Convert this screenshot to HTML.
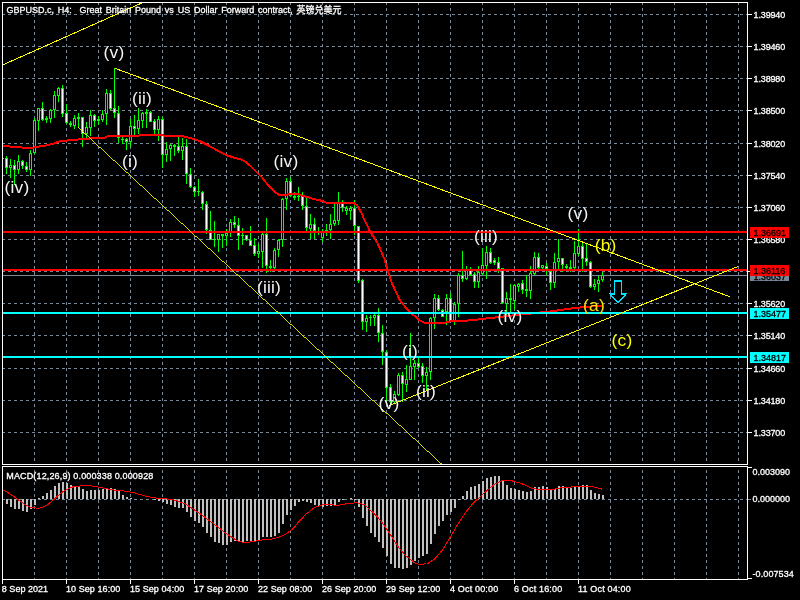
<!DOCTYPE html>
<html lang="en"><head><meta charset="utf-8"><title>GBPUSD.c, H4</title>
<style>html,body{margin:0;padding:0;background:#000;overflow:hidden}svg{display:block}text{font-family:"Liberation Sans","Noto Sans CJK SC",sans-serif;font-size:9px;color:#fff;fill:currentColor;stroke:currentColor;stroke-width:.3px}.w{font-size:17.33px;color:#f4f4f4;stroke-width:0;letter-spacing:.2px}.g{stroke:#778899;stroke-width:1;stroke-dasharray:3 3;fill:none}.c{stroke:#00ff00;stroke-width:1}.u{fill:#000;stroke:#00ff00;stroke-width:1}.d{fill:#fff;stroke:#00ff00;stroke-width:1}.y{stroke:#ffff00;stroke-width:1;fill:none}.b{fill:#000}</style></head><body>
<svg width="800" height="600" viewBox="0 0 800 600">
<rect width="800" height="600" fill="#000"/>
<g shape-rendering="crispEdges">
<g class="g">
<path d="M34.5 2.25V464" />
<path d="M34.5 466.25V579" stroke-dashoffset="2"/>
<path d="M66.5 2.25V464" />
<path d="M66.5 466.25V579" stroke-dashoffset="2"/>
<path d="M98.5 2.25V464" />
<path d="M98.5 466.25V579" stroke-dashoffset="2"/>
<path d="M130.5 2.25V464" />
<path d="M130.5 466.25V579" stroke-dashoffset="2"/>
<path d="M162.5 2.25V464" />
<path d="M162.5 466.25V579" stroke-dashoffset="2"/>
<path d="M194.5 2.25V464" />
<path d="M194.5 466.25V579" stroke-dashoffset="2"/>
<path d="M226.5 2.25V464" />
<path d="M226.5 466.25V579" stroke-dashoffset="2"/>
<path d="M258.5 2.25V464" />
<path d="M258.5 466.25V579" stroke-dashoffset="2"/>
<path d="M290.5 2.25V464" />
<path d="M290.5 466.25V579" stroke-dashoffset="2"/>
<path d="M322.5 2.25V464" />
<path d="M322.5 466.25V579" stroke-dashoffset="2"/>
<path d="M354.5 2.25V464" />
<path d="M354.5 466.25V579" stroke-dashoffset="2"/>
<path d="M386.5 2.25V464" />
<path d="M386.5 466.25V579" stroke-dashoffset="2"/>
<path d="M418.5 2.25V464" />
<path d="M418.5 466.25V579" stroke-dashoffset="2"/>
<path d="M450.5 2.25V464" />
<path d="M450.5 466.25V579" stroke-dashoffset="2"/>
<path d="M482.5 2.25V464" />
<path d="M482.5 466.25V579" stroke-dashoffset="2"/>
<path d="M514.5 2.25V464" />
<path d="M514.5 466.25V579" stroke-dashoffset="2"/>
<path d="M546.5 2.25V464" />
<path d="M546.5 466.25V579" stroke-dashoffset="2"/>
<path d="M578.5 2.25V464" />
<path d="M578.5 466.25V579" stroke-dashoffset="2"/>
<path d="M610.5 2.25V464" />
<path d="M610.5 466.25V579" stroke-dashoffset="2"/>
<path d="M642.5 2.25V464" />
<path d="M642.5 466.25V579" stroke-dashoffset="2"/>
<path d="M674.5 2.25V464" />
<path d="M674.5 466.25V579" stroke-dashoffset="2"/>
<path d="M706.5 2.25V464" />
<path d="M706.5 466.25V579" stroke-dashoffset="2"/>
<path d="M738.5 2.25V464" />
<path d="M738.5 466.25V579" stroke-dashoffset="2"/>
<path d="M1.5 14.5H747"/>
<path d="M1.5 46.5H747"/>
<path d="M1.5 78.5H747"/>
<path d="M1.5 110.5H747"/>
<path d="M1.5 143.5H747"/>
<path d="M1.5 175.5H747"/>
<path d="M1.5 207.5H747"/>
<path d="M1.5 239.5H747"/>
<path d="M1.5 271.5H747"/>
<path d="M1.5 303.5H747"/>
<path d="M1.5 335.5H747"/>
<path d="M1.5 368.5H747"/>
<path d="M1.5 400.5H747"/>
<path d="M1.5 432.5H747"/>
<path d="M1.5 499.5H747"/>
</g>
<rect x="2" y="275" width="745" height="1" fill="#778899"/>
<path class="c" d="M6.5 156V174"/>
<rect class="d" x="5.5" y="158.5" width="2" height="9"/>
<path class="c" d="M10.5 159V178"/>
<rect class="u" x="9.5" y="165.5" width="2" height="2"/>
<path class="c" d="M14.5 160V185"/>
<rect class="d" x="13.5" y="165.5" width="2" height="4"/>
<path class="c" d="M18.5 155V174"/>
<rect class="u" x="17.5" y="161.5" width="2" height="8"/>
<path class="c" d="M22.5 160V169"/>
<rect class="d" x="21.5" y="161.5" width="2" height="4"/>
<path class="c" d="M26.5 162V172"/>
<rect class="d" x="25.5" y="166.5" width="2" height="3"/>
<path class="c" d="M30.5 150V176"/>
<rect class="u" x="29.5" y="153.5" width="2" height="16"/>
<path class="c" d="M34.5 118V154"/>
<rect class="u" x="33.5" y="120.5" width="2" height="32"/>
<path class="c" d="M38.5 108V131"/>
<rect class="u" x="37.5" y="108.5" width="2" height="12"/>
<path class="c" d="M42.5 102V121"/>
<rect class="d" x="41.5" y="108.5" width="2" height="11"/>
<path class="c" d="M46.5 116V123"/>
<rect class="d" x="45.5" y="118.5" width="2" height="1"/>
<path class="c" d="M50.5 109V123"/>
<rect class="u" x="49.5" y="110.5" width="2" height="8"/>
<path class="c" d="M54.5 91V118"/>
<rect class="u" x="53.5" y="95.5" width="2" height="14"/>
<path class="c" d="M58.5 87V102"/>
<rect class="u" x="57.5" y="88.5" width="2" height="7"/>
<path class="c" d="M62.5 85V117"/>
<rect class="d" x="61.5" y="88.5" width="2" height="25"/>
<path class="c" d="M66.5 104V124"/>
<rect class="d" x="65.5" y="113.5" width="2" height="9"/>
<path class="c" d="M70.5 121V127"/>
<rect class="d" x="69.5" y="123.5" width="2" height="1"/>
<path class="c" d="M74.5 115V129"/>
<rect class="u" x="73.5" y="118.5" width="2" height="7"/>
<path class="c" d="M78.5 113V128"/>
<rect class="u" x="77.5" y="117.5" width="2" height="1"/>
<path class="c" d="M82.5 117V147"/>
<rect class="d" x="81.5" y="117.5" width="2" height="16"/>
<path class="c" d="M86.5 122V139"/>
<rect class="u" x="85.5" y="127.5" width="2" height="6"/>
<path class="c" d="M90.5 110V136"/>
<rect class="u" x="89.5" y="115.5" width="2" height="12"/>
<path class="c" d="M94.5 114V127"/>
<rect class="d" x="93.5" y="115.5" width="2" height="5"/>
<path class="c" d="M98.5 116V125"/>
<rect class="d" x="97.5" y="119.5" width="2" height="1"/>
<path class="c" d="M102.5 110V122"/>
<rect class="u" x="101.5" y="114.5" width="2" height="5"/>
<path class="c" d="M106.5 89V125"/>
<rect class="u" x="105.5" y="93.5" width="2" height="20"/>
<path class="c" d="M110.5 90V110"/>
<rect class="d" x="109.5" y="93.5" width="2" height="15"/>
<path class="c" d="M114.5 68V118"/>
<rect class="d" x="113.5" y="108.5" width="2" height="4"/>
<path class="c" d="M118.5 106V143"/>
<rect class="d" x="117.5" y="113.5" width="2" height="24"/>
<path class="c" d="M122.5 137V144"/>
<path class="c" d="M121.0 139.5H124.0"/>
<path class="c" d="M126.5 138V150"/>
<rect class="d" x="125.5" y="139.5" width="2" height="2"/>
<path class="c" d="M130.5 119V147"/>
<rect class="u" x="129.5" y="126.5" width="2" height="15"/>
<path class="c" d="M134.5 115V135"/>
<rect class="d" x="133.5" y="126.5" width="2" height="2"/>
<path class="c" d="M138.5 108V134"/>
<rect class="u" x="137.5" y="120.5" width="2" height="8"/>
<path class="c" d="M142.5 112V128"/>
<rect class="u" x="141.5" y="113.5" width="2" height="7"/>
<path class="c" d="M146.5 109V128"/>
<rect class="u" x="145.5" y="112.5" width="2" height="1"/>
<path class="c" d="M150.5 111V122"/>
<rect class="d" x="149.5" y="112.5" width="2" height="9"/>
<path class="c" d="M154.5 119V136"/>
<rect class="d" x="153.5" y="121.5" width="2" height="8"/>
<path class="c" d="M158.5 116V141"/>
<rect class="u" x="157.5" y="119.5" width="2" height="10"/>
<path class="c" d="M162.5 117V168"/>
<rect class="d" x="161.5" y="119.5" width="2" height="35"/>
<path class="c" d="M166.5 142V162"/>
<rect class="u" x="165.5" y="149.5" width="2" height="5"/>
<path class="c" d="M170.5 144V161"/>
<rect class="u" x="169.5" y="145.5" width="2" height="3"/>
<path class="c" d="M174.5 144V156"/>
<rect class="u" x="173.5" y="145.5" width="2" height="1"/>
<path class="c" d="M178.5 137V153"/>
<rect class="d" x="177.5" y="146.5" width="2" height="4"/>
<path class="c" d="M182.5 138V160"/>
<rect class="u" x="181.5" y="146.5" width="2" height="4"/>
<path class="c" d="M186.5 139V184"/>
<rect class="d" x="185.5" y="146.5" width="2" height="27"/>
<path class="c" d="M190.5 168V188"/>
<rect class="d" x="189.5" y="174.5" width="2" height="12"/>
<path class="c" d="M194.5 186V197"/>
<rect class="d" x="193.5" y="187.5" width="2" height="4"/>
<path class="c" d="M198.5 179V196"/>
<path class="c" d="M197.0 191.5H200.0"/>
<path class="c" d="M202.5 191V210"/>
<rect class="d" x="201.5" y="192.5" width="2" height="11"/>
<path class="c" d="M206.5 201V234"/>
<rect class="d" x="205.5" y="204.5" width="2" height="25"/>
<path class="c" d="M210.5 211V240"/>
<rect class="d" x="209.5" y="230.5" width="2" height="9"/>
<path class="c" d="M214.5 221V247"/>
<path class="c" d="M213.0 239.5H216.0"/>
<path class="c" d="M218.5 234V252"/>
<rect class="u" x="217.5" y="234.5" width="2" height="5"/>
<path class="c" d="M222.5 234V248"/>
<rect class="d" x="221.5" y="234.5" width="2" height="1"/>
<path class="c" d="M226.5 229V246"/>
<rect class="u" x="225.5" y="233.5" width="2" height="2"/>
<path class="c" d="M230.5 219V237"/>
<rect class="u" x="229.5" y="222.5" width="2" height="9"/>
<path class="c" d="M234.5 216V228"/>
<rect class="d" x="233.5" y="222.5" width="2" height="2"/>
<path class="c" d="M238.5 218V250"/>
<rect class="d" x="237.5" y="225.5" width="2" height="10"/>
<path class="c" d="M242.5 228V245"/>
<path class="c" d="M241.0 235.5H244.0"/>
<path class="c" d="M246.5 235V241"/>
<rect class="d" x="245.5" y="235.5" width="2" height="4"/>
<path class="c" d="M250.5 226V246"/>
<rect class="d" x="249.5" y="240.5" width="2" height="5"/>
<path class="c" d="M254.5 238V256"/>
<rect class="d" x="253.5" y="245.5" width="2" height="8"/>
<path class="c" d="M258.5 244V258"/>
<rect class="u" x="257.5" y="251.5" width="2" height="2"/>
<path class="c" d="M262.5 233V268"/>
<rect class="u" x="261.5" y="234.5" width="2" height="17"/>
<path class="c" d="M266.5 218V273"/>
<rect class="d" x="265.5" y="234.5" width="2" height="31"/>
<path class="c" d="M270.5 260V272"/>
<rect class="d" x="269.5" y="266.5" width="2" height="1"/>
<path class="c" d="M274.5 248V269"/>
<rect class="u" x="273.5" y="250.5" width="2" height="17"/>
<path class="c" d="M278.5 239V257"/>
<rect class="u" x="277.5" y="240.5" width="2" height="9"/>
<path class="c" d="M282.5 198V247"/>
<rect class="u" x="281.5" y="199.5" width="2" height="40"/>
<path class="c" d="M286.5 178V210"/>
<rect class="u" x="285.5" y="181.5" width="2" height="17"/>
<path class="c" d="M290.5 177V197"/>
<rect class="d" x="289.5" y="181.5" width="2" height="14"/>
<path class="c" d="M294.5 192V200"/>
<rect class="d" x="293.5" y="196.5" width="2" height="1"/>
<path class="c" d="M298.5 187V201"/>
<path class="c" d="M297.0 196.5H300.0"/>
<path class="c" d="M302.5 192V210"/>
<rect class="d" x="301.5" y="196.5" width="2" height="9"/>
<path class="c" d="M306.5 198V231"/>
<rect class="d" x="305.5" y="206.5" width="2" height="21"/>
<path class="c" d="M310.5 214V239"/>
<rect class="u" x="309.5" y="224.5" width="2" height="4"/>
<path class="c" d="M314.5 218V239"/>
<rect class="d" x="313.5" y="224.5" width="2" height="6"/>
<path class="c" d="M318.5 227V235"/>
<path class="c" d="M317.0 231.5H320.0"/>
<path class="c" d="M322.5 229V242"/>
<rect class="u" x="321.5" y="232.5" width="2" height="5"/>
<path class="c" d="M326.5 224V236"/>
<path class="c" d="M325.0 230.5H328.0"/>
<path class="c" d="M330.5 214V239"/>
<rect class="u" x="329.5" y="224.5" width="2" height="5"/>
<path class="c" d="M334.5 204V226"/>
<rect class="u" x="333.5" y="220.5" width="2" height="3"/>
<path class="c" d="M338.5 192V225"/>
<rect class="u" x="337.5" y="203.5" width="2" height="17"/>
<path class="c" d="M342.5 200V212"/>
<rect class="d" x="341.5" y="203.5" width="2" height="4"/>
<path class="c" d="M346.5 206V215"/>
<rect class="u" x="345.5" y="208.5" width="2" height="2"/>
<path class="c" d="M350.5 206V220"/>
<rect class="u" x="349.5" y="208.5" width="2" height="2"/>
<path class="c" d="M354.5 200V235"/>
<rect class="d" x="353.5" y="208.5" width="2" height="17"/>
<path class="c" d="M358.5 226V283"/>
<rect class="d" x="357.5" y="226.5" width="2" height="54"/>
<path class="c" d="M362.5 279V330"/>
<rect class="d" x="361.5" y="280.5" width="2" height="41"/>
<path class="c" d="M366.5 315V332"/>
<rect class="u" x="365.5" y="318.5" width="2" height="3"/>
<path class="c" d="M370.5 315V326"/>
<path class="c" d="M369.0 317.5H372.0"/>
<path class="c" d="M374.5 313V326"/>
<rect class="u" x="373.5" y="315.5" width="2" height="2"/>
<path class="c" d="M378.5 308V342"/>
<rect class="d" x="377.5" y="315.5" width="2" height="17"/>
<path class="c" d="M382.5 325V365"/>
<rect class="d" x="381.5" y="333.5" width="2" height="18"/>
<path class="c" d="M386.5 350V404"/>
<rect class="d" x="385.5" y="352.5" width="2" height="35"/>
<path class="c" d="M390.5 384V406"/>
<rect class="d" x="389.5" y="387.5" width="2" height="14"/>
<path class="c" d="M394.5 391V403"/>
<rect class="u" x="393.5" y="394.5" width="2" height="7"/>
<path class="c" d="M398.5 373V396"/>
<rect class="u" x="397.5" y="375.5" width="2" height="19"/>
<path class="c" d="M402.5 372V402"/>
<rect class="d" x="401.5" y="375.5" width="2" height="8"/>
<path class="c" d="M406.5 365V392"/>
<rect class="u" x="405.5" y="379.5" width="2" height="5"/>
<path class="c" d="M410.5 333V380"/>
<rect class="u" x="409.5" y="366.5" width="2" height="13"/>
<path class="c" d="M414.5 360V380"/>
<rect class="u" x="413.5" y="363.5" width="2" height="3"/>
<path class="c" d="M418.5 358V368"/>
<rect class="d" x="417.5" y="363.5" width="2" height="3"/>
<path class="c" d="M422.5 363V383"/>
<rect class="d" x="421.5" y="366.5" width="2" height="9"/>
<path class="c" d="M426.5 367V390"/>
<rect class="u" x="425.5" y="372.5" width="2" height="3"/>
<path class="c" d="M430.5 317V380"/>
<rect class="u" x="429.5" y="318.5" width="2" height="53"/>
<path class="c" d="M434.5 294V329"/>
<rect class="u" x="433.5" y="298.5" width="2" height="19"/>
<path class="c" d="M438.5 295V311"/>
<rect class="d" x="437.5" y="298.5" width="2" height="11"/>
<path class="c" d="M442.5 309V317"/>
<rect class="d" x="441.5" y="310.5" width="2" height="6"/>
<path class="c" d="M446.5 294V325"/>
<rect class="u" x="445.5" y="298.5" width="2" height="13"/>
<path class="c" d="M450.5 293V322"/>
<rect class="d" x="449.5" y="298.5" width="2" height="22"/>
<path class="c" d="M454.5 302V325"/>
<rect class="u" x="453.5" y="304.5" width="2" height="16"/>
<path class="c" d="M458.5 273V317"/>
<rect class="u" x="457.5" y="275.5" width="2" height="28"/>
<path class="c" d="M462.5 251V282"/>
<rect class="d" x="461.5" y="275.5" width="2" height="3"/>
<path class="c" d="M466.5 266V280"/>
<rect class="u" x="465.5" y="270.5" width="2" height="8"/>
<path class="c" d="M470.5 267V276"/>
<rect class="d" x="469.5" y="270.5" width="2" height="4"/>
<path class="c" d="M474.5 272V288"/>
<rect class="d" x="473.5" y="274.5" width="2" height="7"/>
<path class="c" d="M478.5 266V288"/>
<rect class="u" x="477.5" y="272.5" width="2" height="9"/>
<path class="c" d="M482.5 248V275"/>
<rect class="u" x="481.5" y="265.5" width="2" height="8"/>
<path class="c" d="M486.5 246V279"/>
<rect class="u" x="485.5" y="252.5" width="2" height="13"/>
<path class="c" d="M490.5 248V264"/>
<rect class="d" x="489.5" y="252.5" width="2" height="10"/>
<path class="c" d="M494.5 258V265"/>
<rect class="d" x="493.5" y="260.5" width="2" height="2"/>
<path class="c" d="M498.5 257V273"/>
<rect class="d" x="497.5" y="262.5" width="2" height="6"/>
<path class="c" d="M502.5 268V304"/>
<rect class="d" x="501.5" y="268.5" width="2" height="34"/>
<path class="c" d="M506.5 292V315"/>
<rect class="u" x="505.5" y="298.5" width="2" height="5"/>
<path class="c" d="M510.5 284V314"/>
<rect class="d" x="509.5" y="298.5" width="2" height="1"/>
<path class="c" d="M514.5 284V310"/>
<rect class="u" x="513.5" y="285.5" width="2" height="15"/>
<path class="c" d="M518.5 283V292"/>
<rect class="u" x="517.5" y="284.5" width="2" height="2"/>
<path class="c" d="M522.5 280V294"/>
<rect class="d" x="521.5" y="283.5" width="2" height="6"/>
<path class="c" d="M526.5 275V297"/>
<rect class="d" x="525.5" y="289.5" width="2" height="1"/>
<path class="c" d="M530.5 266V299"/>
<rect class="u" x="529.5" y="273.5" width="2" height="17"/>
<path class="c" d="M534.5 252V275"/>
<rect class="u" x="533.5" y="257.5" width="2" height="16"/>
<path class="c" d="M538.5 253V269"/>
<rect class="d" x="537.5" y="257.5" width="2" height="10"/>
<path class="c" d="M542.5 265V269"/>
<rect class="u" x="541.5" y="265.5" width="2" height="2"/>
<path class="c" d="M546.5 263V275"/>
<rect class="d" x="545.5" y="266.5" width="2" height="2"/>
<path class="c" d="M550.5 269V290"/>
<rect class="d" x="549.5" y="271.5" width="2" height="11"/>
<path class="c" d="M554.5 253V288"/>
<rect class="u" x="553.5" y="262.5" width="2" height="20"/>
<path class="c" d="M558.5 239V269"/>
<rect class="u" x="557.5" y="258.5" width="2" height="3"/>
<path class="c" d="M562.5 258V272"/>
<rect class="d" x="561.5" y="258.5" width="2" height="6"/>
<path class="c" d="M566.5 264V269"/>
<rect class="d" x="565.5" y="266.5" width="2" height="1"/>
<path class="c" d="M570.5 260V272"/>
<rect class="d" x="569.5" y="267.5" width="2" height="1"/>
<path class="c" d="M574.5 241V269"/>
<rect class="u" x="573.5" y="253.5" width="2" height="14"/>
<path class="c" d="M578.5 229V256"/>
<rect class="u" x="577.5" y="246.5" width="2" height="7"/>
<path class="c" d="M582.5 241V272"/>
<rect class="d" x="581.5" y="246.5" width="2" height="12"/>
<path class="c" d="M586.5 243V266"/>
<rect class="d" x="585.5" y="258.5" width="2" height="3"/>
<path class="c" d="M590.5 261V288"/>
<rect class="d" x="589.5" y="262.5" width="2" height="24"/>
<path class="c" d="M594.5 279V290"/>
<rect class="u" x="593.5" y="284.5" width="2" height="2"/>
<path class="c" d="M598.5 276V292"/>
<rect class="u" x="597.5" y="280.5" width="2" height="3"/>
<path class="c" d="M602.5 272V282"/>
<rect class="u" x="601.5" y="275.5" width="2" height="4"/>
<rect x="3" y="158" width="1" height="1" fill="#00ff00"/>
<polyline points="2,146 10,146.5 16,147 22,147.5 28,148 34,147.5 39,146.5 45,145.7 54,143.5 60,141.2 72,140 90,138.5 98,138 104,138 108,136 137,136 141,135 162,135 166,136 182,136 190,138 199,140.7 205,143.7 212,147.5 220,152 226,155 235,158 241,159.5 246,162 250,165.5 254,169.5 258,173.5 262,177.5 266,182.5 271,188 275,192 278.5,194.7 287,194.7 289,193.7 296,193.7 305,196.4 313,198.7 321,200.6 327,202.9 354.5,203.5 357,205 362,214 364,219 368,227 370,231.5 375,239 377.5,243 384.5,259 387.7,271 392.5,284.5 400,300.5 404,305.5 408,310 412,314 416,317 420,320.5 424,322.5 446,322.5 450,321.5 460,321 471,320.3 519,314.7 550,311.5 575,308 602.5,305.5" fill="none" stroke="#ff0000" stroke-width="2" stroke-linejoin="round"/>
<rect x="2" y="231" width="745" height="2" fill="#ff0000"/>
<rect x="2" y="269" width="745" height="2" fill="#ff0000"/>
<rect x="2" y="312" width="745" height="2" fill="#00ffff"/>
<rect x="2" y="356" width="745" height="2" fill="#00ffff"/>
<g class="y">
<path d="M2.5 65L143 2.5"/>
<path d="M115 68.3L730 296.8"/>
<path d="M78 127.1L441.5 464" stroke-width=".85"/>
<path d="M389.5 405.5L738 266.5"/>
</g>
<path d="M614.5 281H621.5V294H626L618 302.5L610 294H614.5Z" fill="none" stroke="#00e0ff" stroke-width="1.4"/>
<rect x="5.5" y="499" width="2" height="5" fill="#c0c0c0"/>
<rect x="9.5" y="499" width="2" height="8" fill="#c0c0c0"/>
<rect x="13.5" y="499" width="2" height="10" fill="#c0c0c0"/>
<rect x="17.5" y="499" width="2" height="10" fill="#c0c0c0"/>
<rect x="21.5" y="499" width="2" height="12" fill="#c0c0c0"/>
<rect x="25.5" y="499" width="2" height="13" fill="#c0c0c0"/>
<rect x="29.5" y="499" width="2" height="10" fill="#c0c0c0"/>
<rect x="33.5" y="499" width="2" height="6" fill="#c0c0c0"/>
<rect x="37.5" y="498" width="2" height="1" fill="#c0c0c0"/>
<rect x="41.5" y="496" width="2" height="3" fill="#c0c0c0"/>
<rect x="45.5" y="493" width="2" height="6" fill="#c0c0c0"/>
<rect x="49.5" y="490" width="2" height="9" fill="#c0c0c0"/>
<rect x="53.5" y="486" width="2" height="13" fill="#c0c0c0"/>
<rect x="57.5" y="483" width="2" height="16" fill="#c0c0c0"/>
<rect x="61.5" y="482" width="2" height="17" fill="#c0c0c0"/>
<rect x="65.5" y="483" width="2" height="16" fill="#c0c0c0"/>
<rect x="69.5" y="485" width="2" height="14" fill="#c0c0c0"/>
<rect x="73.5" y="486" width="2" height="13" fill="#c0c0c0"/>
<rect x="77.5" y="487" width="2" height="12" fill="#c0c0c0"/>
<rect x="81.5" y="489" width="2" height="10" fill="#c0c0c0"/>
<rect x="85.5" y="491" width="2" height="8" fill="#c0c0c0"/>
<rect x="89.5" y="490" width="2" height="9" fill="#c0c0c0"/>
<rect x="93.5" y="490" width="2" height="9" fill="#c0c0c0"/>
<rect x="97.5" y="490" width="2" height="9" fill="#c0c0c0"/>
<rect x="101.5" y="489" width="2" height="10" fill="#c0c0c0"/>
<rect x="105.5" y="488" width="2" height="11" fill="#c0c0c0"/>
<rect x="109.5" y="488" width="2" height="11" fill="#c0c0c0"/>
<rect x="113.5" y="489" width="2" height="10" fill="#c0c0c0"/>
<rect x="117.5" y="491" width="2" height="8" fill="#c0c0c0"/>
<rect x="121.5" y="495" width="2" height="4" fill="#c0c0c0"/>
<rect x="125.5" y="497" width="2" height="2" fill="#c0c0c0"/>
<rect x="129.5" y="498" width="2" height="1" fill="#c0c0c0"/>
<rect x="153.5" y="499" width="2" height="1" fill="#c0c0c0"/>
<rect x="157.5" y="499" width="2" height="2" fill="#c0c0c0"/>
<rect x="161.5" y="499" width="2" height="3" fill="#c0c0c0"/>
<rect x="165.5" y="499" width="2" height="5" fill="#c0c0c0"/>
<rect x="169.5" y="499" width="2" height="6" fill="#c0c0c0"/>
<rect x="173.5" y="499" width="2" height="8" fill="#c0c0c0"/>
<rect x="177.5" y="499" width="2" height="9" fill="#c0c0c0"/>
<rect x="181.5" y="499" width="2" height="9" fill="#c0c0c0"/>
<rect x="185.5" y="499" width="2" height="13" fill="#c0c0c0"/>
<rect x="189.5" y="499" width="2" height="18" fill="#c0c0c0"/>
<rect x="193.5" y="499" width="2" height="22" fill="#c0c0c0"/>
<rect x="197.5" y="499" width="2" height="24" fill="#c0c0c0"/>
<rect x="201.5" y="499" width="2" height="28" fill="#c0c0c0"/>
<rect x="205.5" y="499" width="2" height="34" fill="#c0c0c0"/>
<rect x="209.5" y="499" width="2" height="38" fill="#c0c0c0"/>
<rect x="213.5" y="499" width="2" height="43" fill="#c0c0c0"/>
<rect x="217.5" y="499" width="2" height="44" fill="#c0c0c0"/>
<rect x="221.5" y="499" width="2" height="46" fill="#c0c0c0"/>
<rect x="225.5" y="499" width="2" height="46" fill="#c0c0c0"/>
<rect x="229.5" y="499" width="2" height="43" fill="#c0c0c0"/>
<rect x="233.5" y="499" width="2" height="42" fill="#c0c0c0"/>
<rect x="237.5" y="499" width="2" height="43" fill="#c0c0c0"/>
<rect x="241.5" y="499" width="2" height="43" fill="#c0c0c0"/>
<rect x="245.5" y="499" width="2" height="42" fill="#c0c0c0"/>
<rect x="249.5" y="499" width="2" height="42" fill="#c0c0c0"/>
<rect x="253.5" y="499" width="2" height="42" fill="#c0c0c0"/>
<rect x="257.5" y="499" width="2" height="42" fill="#c0c0c0"/>
<rect x="261.5" y="499" width="2" height="38" fill="#c0c0c0"/>
<rect x="265.5" y="499" width="2" height="38" fill="#c0c0c0"/>
<rect x="269.5" y="499" width="2" height="38" fill="#c0c0c0"/>
<rect x="273.5" y="499" width="2" height="37" fill="#c0c0c0"/>
<rect x="277.5" y="499" width="2" height="34" fill="#c0c0c0"/>
<rect x="281.5" y="499" width="2" height="25" fill="#c0c0c0"/>
<rect x="285.5" y="499" width="2" height="16" fill="#c0c0c0"/>
<rect x="289.5" y="499" width="2" height="11" fill="#c0c0c0"/>
<rect x="293.5" y="499" width="2" height="7" fill="#c0c0c0"/>
<rect x="297.5" y="499" width="2" height="3" fill="#c0c0c0"/>
<rect x="301.5" y="499" width="2" height="2" fill="#c0c0c0"/>
<rect x="305.5" y="499" width="2" height="3" fill="#c0c0c0"/>
<rect x="309.5" y="499" width="2" height="4" fill="#c0c0c0"/>
<rect x="313.5" y="499" width="2" height="6" fill="#c0c0c0"/>
<rect x="317.5" y="499" width="2" height="7" fill="#c0c0c0"/>
<rect x="321.5" y="499" width="2" height="8" fill="#c0c0c0"/>
<rect x="325.5" y="499" width="2" height="7" fill="#c0c0c0"/>
<rect x="329.5" y="499" width="2" height="7" fill="#c0c0c0"/>
<rect x="333.5" y="499" width="2" height="6" fill="#c0c0c0"/>
<rect x="337.5" y="499" width="2" height="3" fill="#c0c0c0"/>
<rect x="341.5" y="499" width="2" height="1" fill="#c0c0c0"/>
<rect x="349.5" y="498" width="2" height="1" fill="#c0c0c0"/>
<rect x="353.5" y="499" width="2" height="1" fill="#c0c0c0"/>
<rect x="357.5" y="499" width="2" height="8" fill="#c0c0c0"/>
<rect x="361.5" y="499" width="2" height="19" fill="#c0c0c0"/>
<rect x="365.5" y="499" width="2" height="27" fill="#c0c0c0"/>
<rect x="369.5" y="499" width="2" height="34" fill="#c0c0c0"/>
<rect x="373.5" y="499" width="2" height="38" fill="#c0c0c0"/>
<rect x="377.5" y="499" width="2" height="43" fill="#c0c0c0"/>
<rect x="381.5" y="499" width="2" height="49" fill="#c0c0c0"/>
<rect x="385.5" y="499" width="2" height="57" fill="#c0c0c0"/>
<rect x="389.5" y="499" width="2" height="65" fill="#c0c0c0"/>
<rect x="393.5" y="499" width="2" height="69" fill="#c0c0c0"/>
<rect x="397.5" y="499" width="2" height="69" fill="#c0c0c0"/>
<rect x="401.5" y="499" width="2" height="70" fill="#c0c0c0"/>
<rect x="405.5" y="499" width="2" height="69" fill="#c0c0c0"/>
<rect x="409.5" y="499" width="2" height="66" fill="#c0c0c0"/>
<rect x="413.5" y="499" width="2" height="62" fill="#c0c0c0"/>
<rect x="417.5" y="499" width="2" height="59" fill="#c0c0c0"/>
<rect x="421.5" y="499" width="2" height="57" fill="#c0c0c0"/>
<rect x="425.5" y="499" width="2" height="55" fill="#c0c0c0"/>
<rect x="429.5" y="499" width="2" height="45" fill="#c0c0c0"/>
<rect x="433.5" y="499" width="2" height="35" fill="#c0c0c0"/>
<rect x="437.5" y="499" width="2" height="27" fill="#c0c0c0"/>
<rect x="441.5" y="499" width="2" height="22" fill="#c0c0c0"/>
<rect x="445.5" y="499" width="2" height="16" fill="#c0c0c0"/>
<rect x="449.5" y="499" width="2" height="13" fill="#c0c0c0"/>
<rect x="453.5" y="499" width="2" height="9" fill="#c0c0c0"/>
<rect x="457.5" y="499" width="2" height="1" fill="#c0c0c0"/>
<rect x="461.5" y="496" width="2" height="3" fill="#c0c0c0"/>
<rect x="465.5" y="491" width="2" height="8" fill="#c0c0c0"/>
<rect x="469.5" y="487" width="2" height="12" fill="#c0c0c0"/>
<rect x="473.5" y="486" width="2" height="13" fill="#c0c0c0"/>
<rect x="477.5" y="484" width="2" height="15" fill="#c0c0c0"/>
<rect x="481.5" y="481" width="2" height="18" fill="#c0c0c0"/>
<rect x="485.5" y="478" width="2" height="21" fill="#c0c0c0"/>
<rect x="489.5" y="477" width="2" height="22" fill="#c0c0c0"/>
<rect x="493.5" y="476" width="2" height="23" fill="#c0c0c0"/>
<rect x="497.5" y="476" width="2" height="23" fill="#c0c0c0"/>
<rect x="501.5" y="481" width="2" height="18" fill="#c0c0c0"/>
<rect x="505.5" y="485" width="2" height="14" fill="#c0c0c0"/>
<rect x="509.5" y="488" width="2" height="11" fill="#c0c0c0"/>
<rect x="513.5" y="489" width="2" height="10" fill="#c0c0c0"/>
<rect x="517.5" y="490" width="2" height="9" fill="#c0c0c0"/>
<rect x="521.5" y="491" width="2" height="8" fill="#c0c0c0"/>
<rect x="525.5" y="492" width="2" height="7" fill="#c0c0c0"/>
<rect x="529.5" y="491" width="2" height="8" fill="#c0c0c0"/>
<rect x="533.5" y="487" width="2" height="12" fill="#c0c0c0"/>
<rect x="537.5" y="487" width="2" height="12" fill="#c0c0c0"/>
<rect x="541.5" y="486" width="2" height="13" fill="#c0c0c0"/>
<rect x="545.5" y="487" width="2" height="12" fill="#c0c0c0"/>
<rect x="549.5" y="490" width="2" height="9" fill="#c0c0c0"/>
<rect x="553.5" y="489" width="2" height="10" fill="#c0c0c0"/>
<rect x="557.5" y="486" width="2" height="13" fill="#c0c0c0"/>
<rect x="561.5" y="486" width="2" height="13" fill="#c0c0c0"/>
<rect x="565.5" y="488" width="2" height="11" fill="#c0c0c0"/>
<rect x="569.5" y="488" width="2" height="11" fill="#c0c0c0"/>
<rect x="573.5" y="487" width="2" height="12" fill="#c0c0c0"/>
<rect x="577.5" y="486" width="2" height="13" fill="#c0c0c0"/>
<rect x="581.5" y="485" width="2" height="14" fill="#c0c0c0"/>
<rect x="585.5" y="485" width="2" height="14" fill="#c0c0c0"/>
<rect x="589.5" y="490" width="2" height="9" fill="#c0c0c0"/>
<rect x="593.5" y="493" width="2" height="6" fill="#c0c0c0"/>
<rect x="597.5" y="494" width="2" height="5" fill="#c0c0c0"/>
<rect x="601.5" y="495" width="2" height="4" fill="#c0c0c0"/>
<path d="M3 490C5.3 491.3 4.3 490.3 10 494C15.7 497.7 14.0 497.0 20 501C26.0 505.0 22.7 503.7 28 506C33.3 508.3 30.7 507.8 36 508C41.3 508.2 38.7 508.8 44 506.5C49.3 504.2 46.7 505.2 52 501C57.3 496.8 54.0 498.3 60 494C66.0 489.7 63.3 490.7 70 488C76.7 485.3 72.7 486.7 80 486C87.3 485.3 82.0 484.9 92 486C102.0 487.1 97.3 487.4 110 489.4C122.7 491.4 116.7 489.5 130 492C143.3 494.5 136.7 494.5 150 497C163.3 499.5 160.0 497.7 170 499.4C180.0 501.1 173.3 499.5 180 502C186.7 504.5 180.0 500.7 190 507C200.0 513.3 196.7 511.3 210 521C223.3 530.7 219.3 529.0 230 536C240.7 543.0 235.3 540.0 242 542C248.7 544.0 243.3 542.7 250 542C256.7 541.3 253.3 541.3 262 540C270.7 538.7 266.7 541.0 276 538C285.3 535.0 282.0 536.8 290 531C298.0 525.2 293.3 527.2 300 520.5C306.7 513.8 303.3 516.0 310 511C316.7 506.0 313.3 507.6 320 505.6C326.7 503.6 323.3 505.2 330 505C336.7 504.8 333.3 505.5 340 505C346.7 504.5 342.7 503.7 350 503.4C357.3 503.1 355.3 501.8 362 504C368.7 506.2 364.0 504.7 370 510C376.0 515.3 373.3 512.0 380 520C386.7 528.0 383.3 524.3 390 534C396.7 543.7 393.3 540.7 400 549C406.7 557.3 404.0 554.0 410 559C416.0 564.0 413.3 562.3 418 564C422.7 565.7 420.0 564.7 424 564C428.0 563.3 424.7 565.7 430 562C435.3 558.3 433.3 561.2 440 553C446.7 544.8 443.3 548.2 450 537.5C456.7 526.8 453.3 531.2 460 521C466.7 510.8 463.3 515.0 470 507C476.7 499.0 473.3 503.3 480 497C486.7 490.7 484.0 492.8 490 488C496.0 483.2 492.7 485.1 498 482.6C503.3 480.1 500.0 480.6 506 480.4C512.0 480.2 509.3 480.3 516 482C522.7 483.7 520.0 483.2 526 485.4C532.0 487.6 526.0 487.3 534 488.6C542.0 489.9 539.3 489.8 550 489.4C560.7 489.0 554.0 488.3 566 487.4C578.0 486.5 575.3 486.4 586 486.6C596.7 486.8 592.7 487.1 598 488C603.3 488.9 600.7 488.9 602 489.4" fill="none" stroke="#ff0000" stroke-width="1"/>
<path d="M2.5 464.5V2.5H747.5V464.5H2.5" fill="none" stroke="#fff"/>
<path d="M2.5 579.5V466.5H747.5V579.5H2.5" fill="none" stroke="#fff"/>
<rect x="748" y="14" width="4" height="1" fill="#fff"/>
<rect x="748" y="46" width="4" height="1" fill="#fff"/>
<rect x="748" y="78" width="4" height="1" fill="#fff"/>
<rect x="748" y="110" width="4" height="1" fill="#fff"/>
<rect x="748" y="143" width="4" height="1" fill="#fff"/>
<rect x="748" y="175" width="4" height="1" fill="#fff"/>
<rect x="748" y="207" width="4" height="1" fill="#fff"/>
<rect x="748" y="239" width="4" height="1" fill="#fff"/>
<rect x="748" y="271" width="4" height="1" fill="#fff"/>
<rect x="748" y="303" width="4" height="1" fill="#fff"/>
<rect x="748" y="335" width="4" height="1" fill="#fff"/>
<rect x="748" y="368" width="4" height="1" fill="#fff"/>
<rect x="748" y="400" width="4" height="1" fill="#fff"/>
<rect x="748" y="432" width="4" height="1" fill="#fff"/>
<rect x="748" y="467" width="4" height="1" fill="#fff"/>
<rect x="748" y="578" width="4" height="1" fill="#fff"/>
<rect x="748" y="499" width="3" height="1" fill="#778899"/>
<rect x="2" y="580" width="1" height="4" fill="#fff"/>
<rect x="66" y="580" width="1" height="4" fill="#fff"/>
<rect x="130" y="580" width="1" height="4" fill="#fff"/>
<rect x="194" y="580" width="1" height="4" fill="#fff"/>
<rect x="258" y="580" width="1" height="4" fill="#fff"/>
<rect x="322" y="580" width="1" height="4" fill="#fff"/>
<rect x="386" y="580" width="1" height="4" fill="#fff"/>
<rect x="450" y="580" width="1" height="4" fill="#fff"/>
<rect x="514" y="580" width="1" height="4" fill="#fff"/>
<rect x="578" y="580" width="1" height="4" fill="#fff"/>
<rect x="750" y="275" width="39" height="6" fill="#778899"/>
<rect x="750" y="227" width="39" height="11" fill="#ff0000"/>
<rect x="750" y="265" width="39" height="11" fill="#ff0000"/>
<rect x="750" y="308" width="39" height="11" fill="#00ffff"/>
<rect x="750" y="352" width="39" height="11" fill="#00ffff"/>
</g>
<text x="753.6" y="18" textLength="31.6">1.39940</text>
<text x="753.6" y="50" textLength="31.6">1.39460</text>
<text x="753.6" y="82" textLength="31.6">1.38980</text>
<text x="753.6" y="114" textLength="31.6">1.38500</text>
<text x="753.6" y="147" textLength="31.6">1.38020</text>
<text x="753.6" y="179" textLength="31.6">1.37540</text>
<text x="753.6" y="211" textLength="31.6">1.37060</text>
<text x="753.6" y="243" textLength="31.6">1.36580</text>
<text x="753.6" y="307" textLength="31.6">1.35620</text>
<text x="753.6" y="339" textLength="31.6">1.35140</text>
<text x="753.6" y="372" textLength="31.6">1.34660</text>
<text x="753.6" y="404" textLength="31.6">1.34180</text>
<text x="753.6" y="436" textLength="31.6">1.33700</text>
<rect x="750" y="275" width="39" height="6" fill="#778899"/>
<text x="753.5" y="280" style="color:#000">1.36037</text>
<rect x="750" y="227" width="39" height="11" fill="#ff0000"/>
<rect x="750" y="265" width="39" height="11" fill="#ff0000"/>
<text x="753.5" y="236" style="color:#000">1.36691</text>
<text x="753.5" y="274" style="color:#000">1.36116</text>
<text x="753.5" y="317" style="color:#000">1.35477</text>
<text x="753.5" y="361" style="color:#000">1.34817</text>
<text x="752.5" y="475" textLength="37.6">0.003090</text>
<text x="752.5" y="502" textLength="37.6">0.000000</text>
<text x="752.5" y="577" textLength="41.3">-0.007534</text>
<text x="1.8" y="592" textLength="46.3">8 Sep 2021</text>
<text x="66.0" y="592" textLength="54.3">10 Sep 16:00</text>
<text x="130.0" y="592" textLength="54.3">15 Sep 04:00</text>
<text x="194.0" y="592" textLength="54.3">17 Sep 20:00</text>
<text x="258.0" y="592" textLength="54.3">22 Sep 08:00</text>
<text x="322.0" y="592" textLength="54.3">26 Sep 20:00</text>
<text x="386.0" y="592" textLength="54.3">29 Sep 12:00</text>
<text x="450.0" y="592" textLength="48.2">4 Oct 00:00</text>
<text x="514.0" y="592" textLength="48.2">6 Oct 16:00</text>
<text x="578.0" y="592" textLength="52.7">11 Oct 04:00</text>
<text x="6.5" y="13" xml:space="preserve" style="word-spacing:1.3px">GBPUSD.c, H4:  Great Britain Pound vs US Dollar Forward contract, 英镑兑美元</text>
<text x="6.3" y="479" textLength="147">MACD(12,26,9) 0.000338 0.000928</text>
<text class="w" x="114" y="58" text-anchor="middle" style="color:#f4f4f4">(v)</text>
<text class="w" x="142" y="104" text-anchor="middle" style="color:#f4f4f4">(ii)</text>
<text class="w" x="130" y="167" text-anchor="middle" style="color:#f4f4f4">(i)</text>
<text class="w" x="17" y="193" text-anchor="middle" style="color:#f4f4f4">(iv)</text>
<text class="w" x="286" y="167" text-anchor="middle" style="color:#f4f4f4">(iv)</text>
<text class="w" x="269" y="293" text-anchor="middle" style="color:#f4f4f4">(iii)</text>
<text class="w" x="389" y="409" text-anchor="middle" style="color:#f4f4f4">(v)</text>
<text class="w" x="410" y="357" text-anchor="middle" style="color:#f4f4f4">(i)</text>
<text class="w" x="426" y="397" text-anchor="middle" style="color:#f4f4f4">(ii)</text>
<text class="w" x="486" y="242" text-anchor="middle" style="color:#f4f4f4">(iii)</text>
<text class="w" x="510" y="322" text-anchor="middle" style="color:#f4f4f4">(iv)</text>
<text class="w" x="578" y="219" text-anchor="middle" style="color:#f4f4f4">(v)</text>
<text class="w" x="605.7" y="251" text-anchor="middle" style="color:#ffff00">(b)</text>
<text class="w" x="594" y="311" text-anchor="middle" style="color:#ffe000">(a)</text>
<text class="w" x="622" y="346" text-anchor="middle" style="color:#ffff00">(c)</text>
</svg></body></html>
